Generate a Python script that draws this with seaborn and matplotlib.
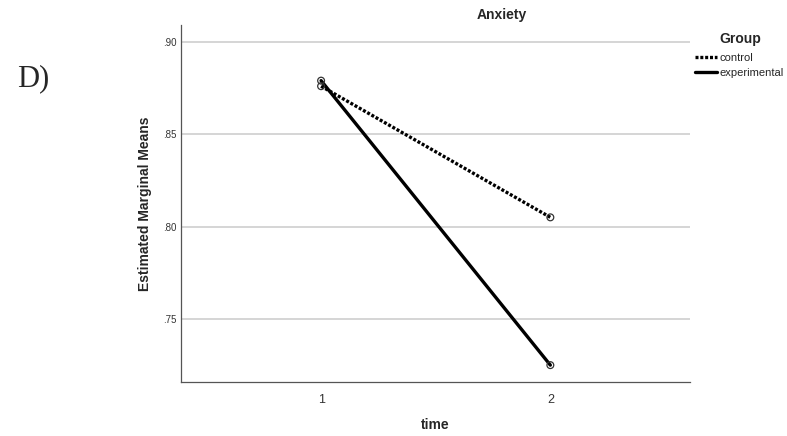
import pandas as pd
import matplotlib
matplotlib.use("Agg")
import matplotlib.pyplot as plt
import seaborn as sns
from matplotlib.ticker import FuncFormatter

# Daten
zeit = [1, 2]
control_means = [0.876, 0.805]
experimental_means = [0.879, 0.725]
gruppen = ["control", "experimental"]
y_ticks = [0.75, 0.80, 0.85, 0.90]

df = pd.DataFrame({
    "time": zeit + zeit,
    "mean": control_means + experimental_means,
    "Group": ["control"] * len(zeit) + ["experimental"] * len(zeit),
})

sns.set_style("white")
plt.rcParams["font.family"] = ["Liberation Sans", "DejaVu Sans"]

fig = plt.figure(figsize=(7.87, 4.36), dpi=100)
ax = fig.add_axes([0.230, 0.124, 0.647, 0.819])

# Gitterlinien
for t in y_ticks:
    ax.axhline(t, color="#d2d2d2", linewidth=1.3, zorder=0)

# Linien
sns.lineplot(data=df, x="time", y="mean", hue="Group", style="Group",
             hue_order=gruppen, style_order=gruppen,
             palette={"control": "black", "experimental": "black"},
             dashes={"control": (0.9, 0.55), "experimental": ""},
             linewidth=2.4, ax=ax, legend=True, zorder=3)

# Kreise an den Punkten
sns.scatterplot(data=df, x="time", y="mean", marker="o", s=24,
                facecolor="none", edgecolor="#333333", linewidth=0.9,
                ax=ax, legend=False, zorder=4)

ax.set_xlim(0.389, 2.61)
ax.set_ylim(0.7159, 0.9092)
ax.set_xticks(zeit)
ax.set_yticks(y_ticks)
ax.yaxis.set_major_formatter(FuncFormatter(lambda v, p: f"{v:.2f}".lstrip("0")))
ax.tick_params(axis="y", labelsize=7, length=0, pad=3, colors="#333333")
ax.tick_params(axis="x", labelsize=9, length=0, pad=9, colors="#333333")

for s in ["top", "right"]:
    ax.spines[s].set_visible(False)
for s in ["left", "bottom"]:
    ax.spines[s].set_color("#555555")
    ax.spines[s].set_linewidth(0.9)

ax.set_xlabel("time", fontsize=10, fontweight="bold")
ax.xaxis.set_label_coords(0.5, -(418 - 382) / 357)
ax.set_ylabel("Estimated Marginal Means", fontsize=10, fontweight="bold", labelpad=8.5)

# Titel
fig.text(502 / 787, 1 - 15 / 436, "Anxiety", ha="center", va="center",
         fontsize=10, fontweight="bold")

# Legende
handles, labels = ax.get_legend_handles_labels()
leg = ax.legend(handles, labels, loc="upper left",
                bbox_to_anchor=(695 / 787, 1 - 53 / 436), bbox_transform=fig.transFigure,
                frameon=False, fontsize=8, handlelength=2.0, handletextpad=0.2,
                labelspacing=0.45, borderaxespad=0, borderpad=0)
fig.text(719 / 787, 1 - 39 / 436, "Group", ha="left", va="center",
         fontsize=10, fontweight="bold")

# Panel-Buchstabe
fig.text(33 / 787, 1 - 79 / 436, "D)", ha="center", va="center",
         fontsize=22, family=["Liberation Serif", "DejaVu Serif"])

plt.savefig("out.png", dpi=100)
